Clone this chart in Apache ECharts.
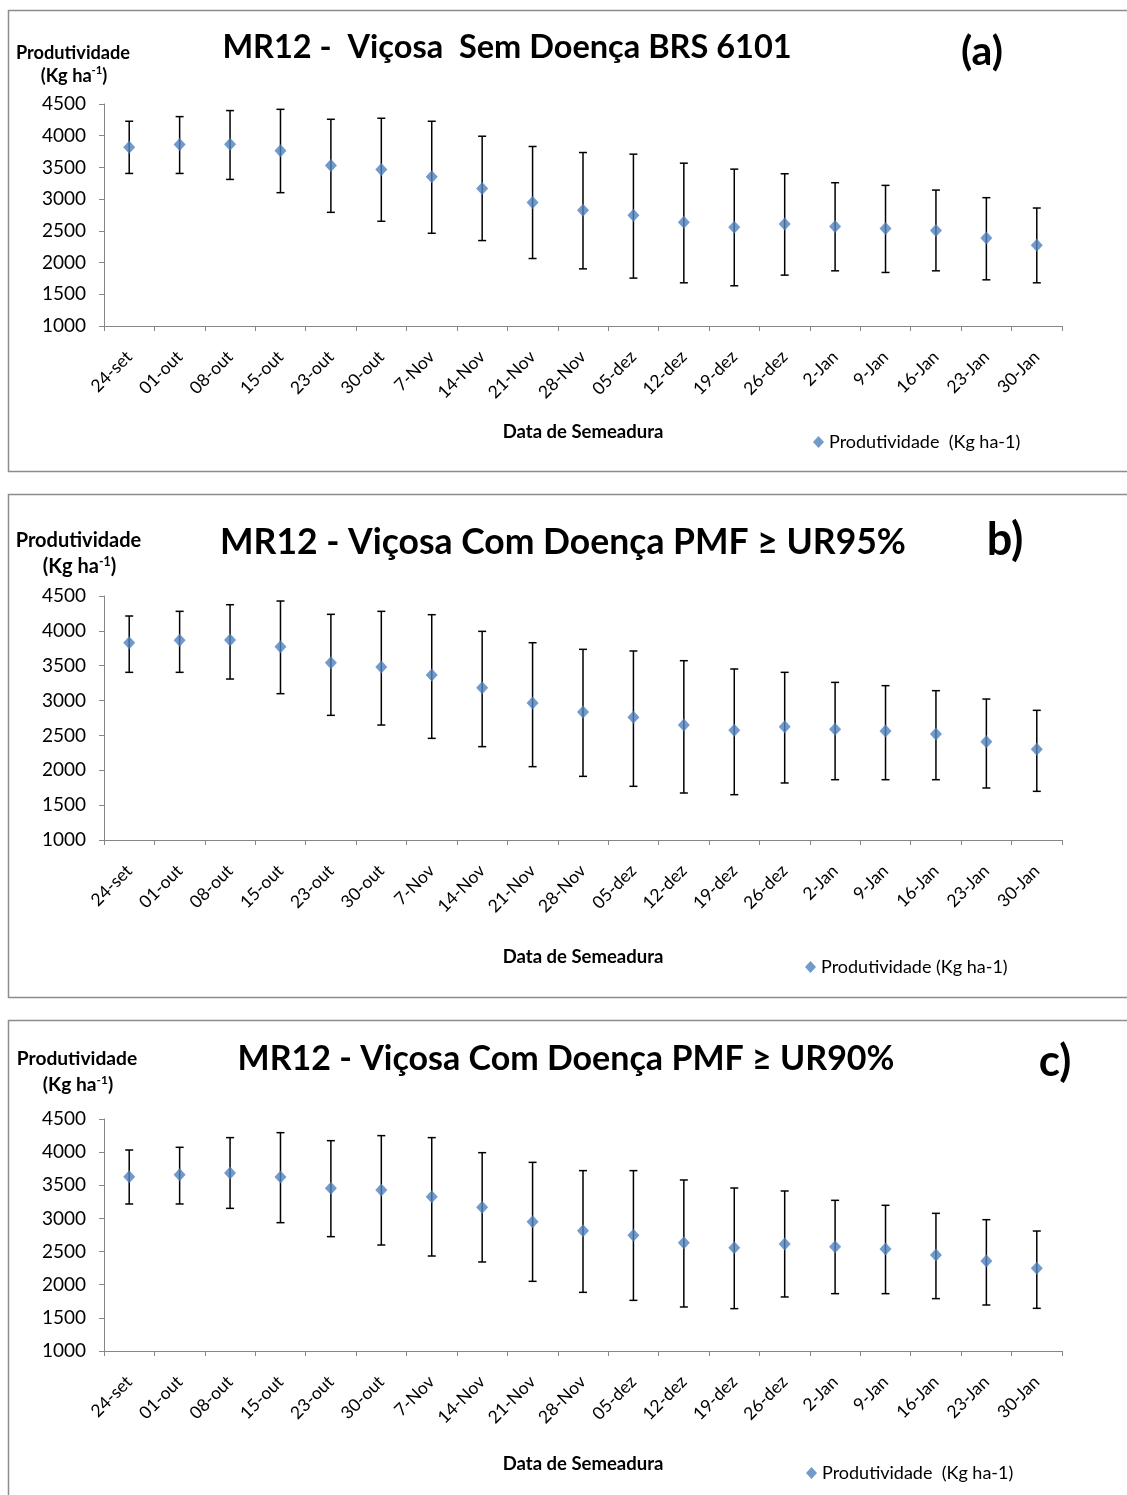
<!DOCTYPE html>
<html><head><meta charset="utf-8">
<script src="https://cdn.jsdelivr.net/npm/echarts@6/dist/echarts.min.js"></script>
<style>html,body{margin:0;padding:0;background:#fff}#c{width:1127px;height:1495px}</style>
</head><body><div id="c"></div>
<script>
const categories = ['24-set','01-out','08-out','15-out','23-out','30-out','7-Nov','14-Nov','21-Nov','28-Nov','05-dez','12-dez','19-dez','26-dez','2-Jan','9-Jan','16-Jan','23-Jan','30-Jan'];
const yTicks = [1000, 4500, 500]; // min, max, interval

// Panel (a) Sem Doença BRS 6101
const meanA = [3820,3860,3865,3762,3531,3468,3353,3169,2949,2824,2745,2635,2556,2608,2567,2536,2504,2388,2273];
const lowA  = [3405,3405,3311,3102,2792,2651,2462,2347,2064,1901,1755,1681,1634,1802,1870,1844,1870,1728,1681];
const highA = [4228,4301,4396,4416,4259,4275,4228,3992,3830,3735,3709,3567,3473,3400,3259,3217,3143,3023,2860];

// Panel (b) Com Doença PMF >= UR95%
const meanB = [3830,3864,3869,3773,3543,3481,3367,3185,2965,2836,2759,2649,2573,2626,2587,2563,2520,2410,2300];
const lowB  = [3405,3405,3309,3099,2788,2649,2458,2339,2052,1913,1770,1674,1650,1818,1865,1865,1865,1746,1698];
const highB = [4213,4280,4375,4428,4237,4280,4232,3993,3830,3735,3711,3572,3453,3405,3261,3214,3142,3022,2860];

// Panel (c) Com Doença PMF >= UR90%
const meanC = [3630,3660,3685,3625,3454,3429,3328,3168,2951,2815,2745,2634,2559,2614,2574,2539,2448,2358,2247];
const lowC  = [3218,3218,3152,2936,2725,2599,2433,2343,2051,1885,1764,1664,1639,1815,1865,1865,1790,1694,1644];
const highC = [4032,4073,4219,4294,4173,4249,4219,3992,3846,3721,3721,3580,3459,3414,3273,3198,3077,2981,2810];

const titles = ['MR12 -  Viçosa  Sem Doença BRS 6101','MR12 - Viçosa Com Doença PMF ≥ UR95%','MR12 - Viçosa Com Doença PMF ≥ UR90%'];
const letters = ['(a)','b)','c)'];
const seriesNames = ['Produtividade  (Kg ha-1)','Produtividade (Kg ha-1)','Produtividade  (Kg ha-1) '];
const xName = 'Data de Semeadura';

const FONT = 'Lato, "Open Sans", sans-serif';
const AXIS_GRAY = '#868686';
const BLUE = '#4F81BD';

const panels = [
  {mean: meanA, low: lowA, high: highA, top: 104, height: 222, frameTop: 10, frameH: 461,
   titleX: 507, titleY: 48, titleSize: 32.5, letterX: 982, letterY: 52, letterSize: 41,
   ynX: 73, yn1Y: 53, yn2Y: 76, ynSize: 18.2, legendTop: 428, legendLeft: 808, xNameGap: 97},
  {mean: meanB, low: lowB, high: highB, top: 596, height: 244, frameTop: 494, frameH: 503,
   titleX: 563, titleY: 543, titleSize: 35.5, letterX: 1005, letterY: 540, letterSize: 45,
   ynX: 78.5, yn1Y: 541, yn2Y: 567, ynSize: 20, legendTop: 953, legendLeft: 800, xNameGap: 108},
  {mean: meanC, low: lowC, high: highC, top: 1119, height: 232, frameTop: 1020, frameH: 500,
   titleX: 566, titleY: 1059, titleSize: 34, letterX: 1055, letterY: 1062, letterSize: 44,
   ynX: 77, yn1Y: 1059, yn2Y: 1085, ynSize: 19.2, legendTop: 1459, legendLeft: 801, xNameGap: 104}
];

function errRender(params, api) {
  const x = api.value(0), lo = api.value(1), hi = api.value(2);
  const p1 = api.coord([x, hi]);
  const p2 = api.coord([x, lo]);
  const w = 4;
  const style = {stroke: '#000', lineWidth: 1.5};
  return {type: 'group', children: [
    {type: 'line', shape: {x1: p1[0], y1: p1[1], x2: p2[0], y2: p2[1]}, style},
    {type: 'line', shape: {x1: p1[0] - w, y1: p1[1], x2: p1[0] + w, y2: p1[1]}, style},
    {type: 'line', shape: {x1: p2[0] - w, y1: p2[1], x2: p2[0] + w, y2: p2[1]}, style}
  ]};
}

const grid = [], xAxis = [], yAxis = [], series = [], legend = [], graphic = [];
panels.forEach((p, i) => {
  graphic.push({type: 'rect', shape: {x: 8.5, y: p.frameTop + 0.5, width: 1130, height: p.frameH},
    style: {fill: 'none', stroke: '#8c8c8c', lineWidth: 1.5}, z: -10});
  graphic.push({type: 'text', x: p.titleX, y: p.titleY,
    style: {text: titles[i], font: `bold ${p.titleSize}px ${FONT}`, fill: '#000', align: 'center', verticalAlign: 'middle'}});
  graphic.push({type: 'text', x: p.letterX, y: p.letterY,
    style: {text: letters[i], font: `bold ${p.letterSize}px ${FONT}`, fill: '#000', align: 'center', verticalAlign: 'middle'}});
  graphic.push({type: 'text', x: p.ynX, y: p.yn1Y,
    style: {text: 'Produtividade', font: `bold ${p.ynSize}px ${FONT}`, fill: '#000', align: 'center', verticalAlign: 'middle'}});
  graphic.push({type: 'text', x: p.ynX + 1, y: p.yn2Y,
    style: {text: '{n|(Kg ha}{s|-1}{n|)}', align: 'center', verticalAlign: 'middle',
      rich: {
        n: {fontFamily: FONT, fontWeight: 'bold', fontSize: p.ynSize, fill: '#000', lineHeight: 22},
        s: {fontFamily: FONT, fontWeight: 'bold', fontSize: p.ynSize * 0.62, fill: '#000', lineHeight: 22, verticalAlign: 'top', padding: [0, 0, 9, 0]}
      }}});

  grid.push({left: 104, top: p.top, width: 958, height: p.height, containLabel: false});
  xAxis.push({type: 'category', gridIndex: i, data: categories, boundaryGap: true,
    name: xName, nameLocation: 'middle', nameGap: p.xNameGap,
    nameTextStyle: {fontFamily: FONT, fontWeight: 'bold', fontSize: 18.5, color: '#000'},
    axisLine: {lineStyle: {color: AXIS_GRAY, width: 1}},
    axisTick: {show: true, length: 5, lineStyle: {color: AXIS_GRAY}},
    axisLabel: {rotate: 45, margin: 28, interval: 0, fontFamily: FONT, fontSize: 17.5, color: '#000'},
    splitLine: {show: false}});
  yAxis.push({type: 'value', gridIndex: i, min: yTicks[0], max: yTicks[1], interval: yTicks[2],
    axisLine: {show: true, lineStyle: {color: AXIS_GRAY, width: 1}},
    axisTick: {show: true, length: 5, lineStyle: {color: AXIS_GRAY}},
    axisLabel: {margin: 18, fontFamily: FONT, fontSize: 19, color: '#000', formatter: v => String(v)},
    splitLine: {show: false}});
  series.push({type: 'custom', name: seriesNames[i] + '_err', xAxisIndex: i, yAxisIndex: i,
    renderItem: errRender, data: categories.map((c, k) => [k, p.low[k], p.high[k]]), z: 2, silent: true});
  series.push({type: 'scatter', name: seriesNames[i], xAxisIndex: i, yAxisIndex: i,
    symbol: 'diamond', symbolSize: [12, 13], itemStyle: {color: BLUE}, data: p.mean, z: 3});
  legend.push({data: [{name: seriesNames[i], icon: 'diamond'}], left: p.legendLeft, top: p.legendTop,
    itemWidth: 11, itemHeight: 12, itemGap: 4,
    textStyle: {fontFamily: FONT, fontSize: 18, color: '#000'}});
});

const chart = echarts.init(document.getElementById('c'), null, {renderer: 'canvas'});
chart.setOption({backgroundColor: '#fff', animation: false, grid, xAxis, yAxis, series, legend, graphic});
</script></body></html>
